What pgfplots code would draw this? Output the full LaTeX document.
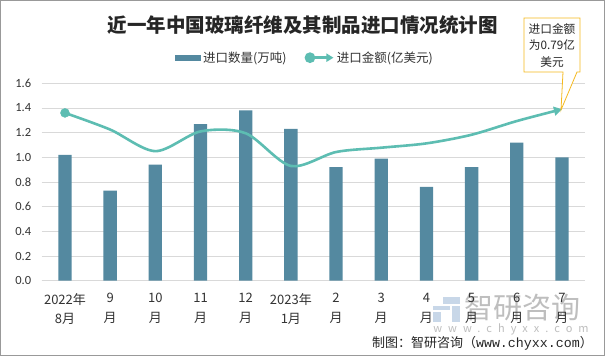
\documentclass[border=0pt]{standalone}
\usepackage{fontspec}
\usepackage{pgfplots}
\pgfplotsset{compat=1.18}
\usetikzlibrary{arrows.meta}
\setmainfont{Carlito}
\newfontfamily\cjk{Noto Sans CJK SC}
\newfontfamily\monof{Liberation Mono}
\definecolor{barcol}{RGB}{84,137,160}
\definecolor{linecol}{RGB}{93,189,178}
\definecolor{gridcol}{RGB}{217,217,217}
\definecolor{callout}{RGB}{245,185,30}
\definecolor{wmgray}{RGB}{190,190,190}
\definecolor{wmblue}{RGB}{200,215,232}
\begin{document}
\begin{tikzpicture}[x=1pt,y=1pt]
\useasboundingbox (0,0) rectangle (605,356);
\fill[white] (0,0) rectangle (605,356);
% watermark
\fill[wmblue] (433,34) rectangle (441,44);
\fill[wmblue] (443,52) rectangle (460,59);
\fill[wmblue] (452,34) rectangle (460,50);
\fill[wmblue] (433,46) rectangle (450,50);
\node[text=wmgray, font=\cjk\fontsize{29}{30}\selectfont, inner sep=0pt] at (522.5,48) {智研咨询};
\node[text=wmgray, font=\cjk\fontsize{11}{12}\selectfont\addfontfeature{LetterSpace=55}, inner sep=0pt] at (511,27) {www.chyxx.com};
% title
\node[font=\cjk\bfseries\fontsize{19.5}{22}\selectfont, inner sep=0pt, text=black!85] at (302.5,331) {近一年中国玻璃纤维及其制品进口情况统计图};
\begin{axis}[
  at={(41.7pt,75.3pt)}, anchor=south west, scale only axis,
  width=543.3pt, height=197.4pt,
  xmin=-0.515, xmax=11.51, ymin=0, ymax=1.6,
  ytick={0,0.2,0.4,0.6,0.8,1.0,1.2,1.4,1.6},
  /pgf/number format/assume math mode=true,
  yticklabel style={/pgf/number format/fixed, /pgf/number format/fixed zerofill, /pgf/number format/precision=1, font=\fontsize{12.5}{14}\selectfont, text=black!80, xshift=-7pt},
  xtick={0,1,2,3,4,5,6,7,8,9,10,11},
  xticklabels={2022年\\8月, 9\\月, 10\\月, 11\\月, 12\\月, 2023年\\1月, 2\\月, 3\\月, 4\\月, 5\\月, 6\\月, 7\\月},
  xticklabel style={align=center, font=\cjk\fontsize{13}{19.5}\selectfont, text=black!80, yshift=-9pt},
  major tick length=0pt,
  ymajorgrids, grid style={gridcol, line width=0.8pt},
  axis x line*=bottom, axis y line*=left,
  x axis line style={gridcol, line width=0.8pt, -},
  y axis line style={draw=none},
  clip=false,
  legend style={at={(0.4846,1.1297)}, anchor=center, draw=none, fill=none,
    legend columns=2, font=\cjk\fontsize{12.5}{14}\selectfont, text=black!80,
    /tikz/every even column/.append style={column sep=16pt},
    legend cell align=left, inner sep=0pt},
]
\addplot[ybar, bar width=13.3pt, fill=barcol, draw=none,
  legend image code/.code={\fill[barcol] (0pt,-3pt) rectangle (26pt,3pt);}]
  coordinates {(0,1.02) (1,0.73) (2,0.94) (3,1.27) (4,1.38) (5,1.23) (6,0.92) (7,0.99) (8,0.76) (9,0.92) (10,1.12) (11,1.00)};
\addlegendentry{进口数量(万吨)}
\addplot[smooth, color=linecol, line width=2.6pt, -{Triangle[length=8pt,width=9pt]}, mark=none,
  legend image code/.code={\draw[linecol, line width=2.6pt, -{Triangle[length=7pt,width=8pt]}] (0pt,0pt) -- (27pt,0pt); \fill[linecol] (3.5pt,0pt) circle (4pt);}]
  coordinates {(0,1.36) (1,1.225) (2,1.05) (3,1.21) (4,1.195) (5,0.93) (6,1.043) (7,1.078) (8,1.113) (9,1.183) (10,1.294) (11,1.39)};
\addlegendentry{进口金额(亿美元)}
\addplot[only marks, mark=*, mark size=4.5pt, color=linecol, forget plot] coordinates {(0,1.36)};
\end{axis}
% callout
\filldraw[fill=white, draw=callout, line width=0.8pt, line join=miter]
  (524,338) -- (580,338) -- (580,284) -- (577,284) -- (561,246) -- (563,284) -- (524,284) -- cycle;
\node[font=\cjk\fontsize{11.7}{16.5}\selectfont, align=center, inner sep=0pt, text=black!85] at (552,311) {进口金额\\为0.79亿\\美元};
% source
\node[anchor=east, inner sep=0pt, text=black!85] at (593,13) {\cjk\fontsize{13}{15}\selectfont 制图：智研咨询（\monof\fontsize{13.3}{15}\selectfont www.chyxx.com\cjk\fontsize{13}{15}\selectfont ）};
\draw[black!40, line width=1pt] (0.5,0.5) rectangle (604.5,355.5);
\end{tikzpicture}
\end{document}
